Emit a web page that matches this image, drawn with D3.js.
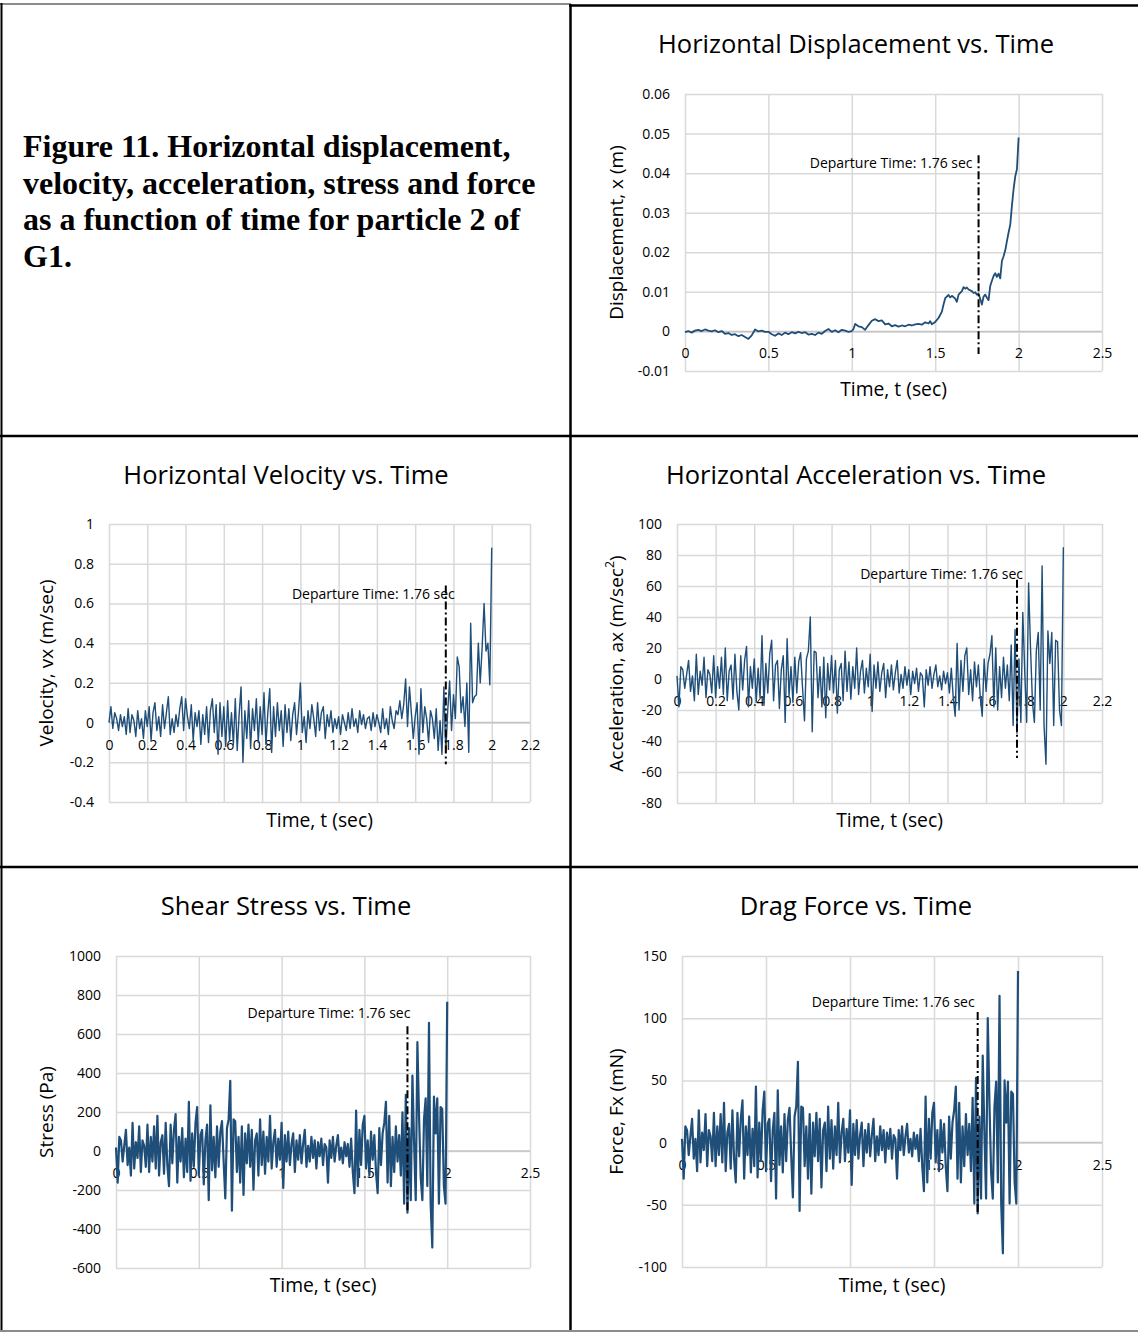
<!DOCTYPE html>
<html>
<head>
<meta charset="utf-8">
<script src="https://cdn.jsdelivr.net/npm/d3@7"></script>
<style>
  body { margin: 0; background: #fff; }
  svg { display: block; }
  .tick text { font-family: "Open Sans", sans-serif; fill: #000; }
</style>
</head>
<body>
<div id="chart-container"></div>
<script>
// ---- data ----
const caption = [
  "Figure 11. Horizontal displacement,",
  "velocity, acceleration, stress and force",
  "as a function of time for particle 2 of",
  "G1."
];

const departureTime = 1.76;
const departureLabel = "Departure Time: 1.76 sec";

// displacement, x (m) : sampled unevenly
const dispT = [0,0.02,0.04,0.06,0.08,0.10,0.12,0.14,0.16,0.18,0.20,0.22,0.24,0.26,0.28,0.30,0.32,0.34,0.36,0.38,
  0.40,0.42,0.44,0.46,0.48,0.50,0.52,0.54,0.56,0.58,0.60,0.62,0.64,0.66,0.68,0.70,0.72,0.74,0.76,0.78,
  0.80,0.82,0.84,0.86,0.88,0.90,0.92,0.94,0.96,0.98,1.00,1.01,1.02,1.04,1.06,1.08,1.10,1.12,1.14,1.16,
  1.18,1.20,1.22,1.24,1.26,1.28,1.30,1.32,1.34,1.36,1.38,1.40,1.42,1.44,1.46,1.47,1.48,1.50,1.52,1.54,
  1.55,1.56,1.58,1.59,1.60,1.62,1.63,1.64,1.66,1.67,1.68,1.69,1.70,1.72,1.73,1.74,1.75,1.76,1.77,1.78,
  1.79,1.80,1.81,1.82,1.83,1.84,1.85,1.86,1.87,1.88,1.89,1.90,1.91,1.92,1.93,1.94,1.95,1.96,1.97,1.98,
  1.99,2.00];
const dispX = [-0.0002,0.0001,-0.0003,0.0002,0.0004,0.0001,0.0005,0.0002,0.0000,0.0003,-0.0002,0.0001,-0.0006,-0.0004,-0.0009,-0.0007,-0.0012,-0.0009,-0.0014,-0.0019,
  -0.0010,0.0005,0.0000,0.0002,-0.0001,-0.0001,-0.0007,-0.0011,-0.0005,-0.0009,-0.0003,-0.0007,-0.0002,-0.0005,-0.0001,-0.0004,-0.0002,-0.0008,-0.0006,-0.0009,
  -0.0003,-0.0006,0.0001,0.0006,-0.0001,0.0003,-0.0002,0.0004,0.0002,-0.0001,0.0001,0.0006,0.0019,0.0013,0.0011,0.0004,0.0016,0.0027,0.0031,0.0026,
  0.0028,0.0018,0.0020,0.0013,0.0016,0.0012,0.0015,0.0013,0.0017,0.0015,0.0018,0.0019,0.0017,0.0023,0.0020,0.0026,0.0018,0.0024,0.0034,0.0050,
  0.0068,0.0084,0.0092,0.0086,0.0090,0.0083,0.0075,0.0093,0.0102,0.0112,0.0108,0.0111,0.0106,0.0102,0.0097,0.0099,0.0093,0.0096,0.0082,0.0068,
  0.0088,0.0093,0.0085,0.0079,0.0115,0.0128,0.0140,0.0147,0.0138,0.0146,0.0134,0.0178,0.0190,0.0205,0.0228,0.0250,0.0270,0.0318,0.0360,0.0392,
  0.0410,0.0490];

// the other four series are sampled every 0.01 s from 0 to 2.00 s
const sampleStep = 0.01;

const velocity = [
  0.00,0.08,-0.03,0.05,0.02,-0.04,0.04,-0.02,0.03,-0.06,
  0.07,-0.05,0.04,0.01,-0.07,0.06,-0.03,0.02,-0.08,0.06,
  -0.02,0.08,-0.09,0.05,0.10,-0.04,0.03,-0.07,0.09,-0.03,
  0.05,0.13,-0.06,0.02,-0.05,0.04,-0.02,0.07,0.13,-0.04,
  0.12,0.03,-0.03,0.09,-0.09,0.05,-0.02,0.06,-0.11,0.04,
  -0.06,0.08,-0.10,0.06,0.12,-0.05,0.09,-0.16,0.10,-0.07,
  0.08,-0.12,0.11,-0.09,0.05,-0.11,0.12,-0.14,0.04,0.18,
  -0.20,0.06,-0.08,0.11,-0.13,0.07,-0.04,0.12,-0.10,0.08,
  -0.06,0.15,-0.11,0.05,0.17,-0.15,0.08,-0.07,0.10,-0.04,
  0.06,-0.12,0.09,-0.05,0.07,-0.09,0.04,0.10,-0.06,0.05,
  0.20,-0.05,0.03,-0.10,0.06,-0.03,0.09,0.02,-0.07,0.10,
  -0.04,0.05,0.08,-0.08,0.04,-0.02,0.06,-0.05,0.02,-0.03,
  0.03,-0.06,0.04,0.00,-0.04,0.05,-0.03,0.07,-0.02,0.02,
  -0.05,0.06,-0.01,0.04,-0.03,0.02,0.03,-0.04,0.05,-0.02,
  0.04,0.00,-0.05,0.07,-0.03,0.02,-0.06,0.08,0.01,-0.03,
  0.06,0.04,0.11,0.02,0.09,0.22,-0.02,0.18,0.05,-0.08,
  0.03,0.10,-0.16,0.17,-0.05,0.08,0.02,-0.10,0.06,0.02,
  -0.08,0.07,-0.14,0.01,-0.16,0.18,-0.15,0.06,0.21,-0.04,
  0.14,0.02,0.33,0.28,0.05,0.13,-0.02,0.20,-0.15,0.50,
  0.10,0.13,0.14,0.40,0.20,0.38,0.60,0.36,0.40,0.19,
  0.88];

const acceleration = [
  2,-18,8,6,-6,3,12,-8,2,-14,
  16,-10,5,-4,14,-12,6,3,-9,15,
  -12,8,-6,14,-10,20,-14,5,9,-13,
  16,-8,-20,15,-7,12,21,-18,8,-6,
  13,-15,7,-12,28,-17,10,-9,16,25,
  -14,9,12,-19,6,15,-28,26,-11,8,
  -15,14,-9,11,17,-6,-27,13,18,40,
  -34,18,17,-12,8,-18,14,-25,10,-7,
  15,-9,12,-22,6,10,-14,18,-8,11,
  -13,8,-6,20,-10,5,12,-9,7,-5,
  16,-21,9,-6,11,-8,4,10,-12,6,
  -5,9,-7,4,12,-9,3,-6,8,-4,
  6,-10,5,-3,7,-8,4,2,-18,6,
  -4,8,-6,3,9,-5,2,-7,5,-3,
  4,-9,7,-12,-24,23,-20,12,-8,15,
  20,-10,6,-14,11,-5,9,-12,-24,13,
  -8,10,16,28,-18,20,-20,8,-12,14,
  -6,9,-14,22,-30,32,-35,13,-28,43,
  5,-28,62,20,-15,-28,18,30,-20,73,
  -30,-55,31,10,30,-30,25,24,-20,-30,
  85];

const stress = [
  18,-162,72,54,-54,27,108,-72,18,-126,
  144,-90,45,-36,126,-108,54,27,-81,135,
  -108,72,-54,126,-90,180,-126,45,81,-117,
  144,-72,-180,135,-63,108,189,-162,72,-54,
  117,-135,63,-108,252,-153,90,-81,144,225,
  -126,81,108,-171,54,135,-252,234,-99,72,
  -135,126,-81,99,153,-54,-243,117,162,360,
  -306,162,153,-108,72,-162,126,-225,90,-63,
  135,-81,108,-198,54,90,-126,162,-72,99,
  -117,72,-54,180,-90,45,108,-81,63,-45,
  144,-189,81,-54,99,-72,36,90,-108,54,
  -45,81,-63,36,108,-81,27,-54,72,-36,
  54,-90,45,-27,63,-72,36,18,-162,54,
  -36,72,-54,27,81,-45,18,-63,45,-27,
  36,-81,63,-108,-216,207,-180,108,-72,135,
  180,-90,54,-126,99,-45,81,-108,-216,117,
  -72,90,144,252,-162,180,-180,72,-108,126,
  -54,81,-126,198,-270,288,-315,117,-252,387,
  45,-252,558,180,-135,-252,162,270,-180,657,
  -270,-495,279,90,270,-270,225,216,-180,-270,
  765];

const force = [
  3,-29,13,10,-10,5,19,-13,3,-23,
  26,-16,8,-6,23,-19,10,5,-15,24,
  -19,13,-10,23,-16,32,-23,8,15,-21,
  26,-13,-32,24,-11,19,34,-29,13,-10,
  21,-24,11,-19,45,-28,16,-15,26,41,
  -23,15,19,-31,10,24,-45,42,-18,13,
  -24,23,-15,18,28,-10,-44,21,29,65,
  -55,29,28,-19,13,-29,23,-41,16,-11,
  24,-15,19,-36,10,16,-23,29,-13,18,
  -21,13,-10,32,-16,8,19,-15,11,-8,
  26,-34,15,-10,18,-13,6,16,-19,10,
  -8,15,-11,6,19,-15,5,-10,13,-6,
  10,-16,8,-5,11,-13,6,3,-29,10,
  -6,13,-10,5,15,-8,3,-11,8,-5,
  6,-15,11,-19,-39,37,-32,19,-13,24,
  32,-16,10,-23,18,-8,15,-19,-39,21,
  -13,16,26,45,-29,32,-32,13,-19,23,
  -10,15,-23,36,-49,52,-57,21,-45,70,
  8,-45,100,32,-24,-45,29,49,-32,118,
  -49,-89,50,16,49,-49,41,39,-32,-49,
  138];

// axis ticks
const ticksDispX = [0, 0.5, 1, 1.5, 2, 2.5];
const ticksDispY = [-0.01, 0, 0.01, 0.02, 0.03, 0.04, 0.05, 0.06];
const ticksVelX = [0, 0.2, 0.4, 0.6, 0.8, 1, 1.2, 1.4, 1.6, 1.8, 2, 2.2];
const ticksVelY = [-0.4, -0.2, 0, 0.2, 0.4, 0.6, 0.8, 1];
const ticksAccX = ticksVelX;
const ticksAccY = [-80, -60, -40, -20, 0, 20, 40, 60, 80, 100];
const ticksStressX = ticksDispX;
const ticksStressY = [-600, -400, -200, 0, 200, 400, 600, 800, 1000];
const ticksForceX = ticksDispX;
const ticksForceY = [-100, -50, 0, 50, 100, 150];

// ---- layout ----
const W = 1138, H = 1332;
const FONT = "'Open Sans', sans-serif";
const LINE_COLOR = "#1f4e79";
const GRID_COLOR = "#d9d9d9";

const svg = d3.select("#chart-container").append("svg")
  .attr("width", W).attr("height", H)
  .attr("viewBox", `0 0 ${W} ${H}`);

// table borders
svg.append("line").attr("x1", 0).attr("x2", 571).attr("y1", 4).attr("y2", 4)
  .attr("stroke", "#8c8c8c").attr("stroke-width", 2);
svg.append("line").attr("x1", 569).attr("x2", W).attr("y1", 5.5).attr("y2", 5.5)
  .attr("stroke", "#000").attr("stroke-width", 2.5);
svg.append("line").attr("x1", 1.5).attr("x2", 1.5).attr("y1", 3).attr("y2", H)
  .attr("stroke", "#000").attr("stroke-width", 2);
svg.append("line").attr("x1", 570.5).attr("x2", 570.5).attr("y1", 4).attr("y2", H)
  .attr("stroke", "#000").attr("stroke-width", 2.5);
[436, 867].forEach(yy => {
  svg.append("line").attr("x1", 0).attr("x2", W).attr("y1", yy).attr("y2", yy)
    .attr("stroke", "#000").attr("stroke-width", 2.5);
});
svg.append("line").attr("x1", 0).attr("x2", W).attr("y1", 1331).attr("y2", 1331)
  .attr("stroke", "#8c8c8c").attr("stroke-width", 2);

// caption
svg.append("text")
  .attr("font-family", "'Liberation Serif', 'Times New Roman', serif")
  .attr("font-weight", "bold")
  .attr("font-size", 32)
  .selectAll("tspan")
  .data(caption)
  .join("tspan")
    .attr("x", 23)
    .attr("y", (d, i) => 157 + i * 36.7)
    .text(d => d);

const fmt = v => String(+v.toFixed(4));

function series(values) {
  return values.map((v, i) => ({t: +(i * sampleStep).toFixed(2), v}));
}

function drawChart(c) {
  const g = svg.append("g");
  const x = d3.scaleLinear().domain(c.xDomain).range([c.left, c.right]);
  const y = d3.scaleLinear().domain(c.yDomain).range([c.bottom, c.top]);

  // gridlines
  const gy = g.append("g").attr("transform", `translate(${c.left},0)`)
    .call(d3.axisLeft(y).tickValues(c.yTicks).tickSize(-(c.right - c.left)).tickFormat(""));
  const gx = g.append("g").attr("transform", `translate(0,${c.bottom})`)
    .call(d3.axisBottom(x).tickValues(c.xTicks).tickSize(c.bottom - c.top).tickFormat(""))
  gx.selectAll("line").attr("y2", -(c.bottom - c.top));
  [gy, gx].forEach(a => {
    a.select(".domain").remove();
    a.selectAll("line").attr("stroke", GRID_COLOR).attr("stroke-width", 1.5);
  });

  // zero axis line
  g.append("line")
    .attr("x1", c.left).attr("x2", c.right)
    .attr("y1", y(0)).attr("y2", y(0))
    .attr("stroke", "#c4c4c4").attr("stroke-width", 1.5);

  // y tick labels
  const ly = g.append("g").attr("transform", `translate(${c.left},0)`)
    .call(d3.axisLeft(y).tickValues(c.yTicks).tickSize(0).tickPadding(15).tickFormat(c.yFmt || fmt));
  ly.select(".domain").remove();
  ly.selectAll("text").attr("font-size", 14).attr("font-family", FONT);

  // x tick labels, hanging below the zero line
  const lx = g.append("g").attr("transform", `translate(0,${y(0)})`)
    .call(d3.axisBottom(x).tickValues(c.xTicks).tickSize(0).tickPadding(17).tickFormat(fmt));
  lx.select(".domain").remove();
  lx.selectAll("text").attr("font-size", 14).attr("font-family", FONT);

  // data line
  const line = d3.line().x(d => x(d.t)).y(d => y(d.v));
  g.append("path")
    .datum(c.data)
    .attr("fill", "none")
    .attr("stroke", LINE_COLOR)
    .attr("stroke-width", c.lineWidth)
    .attr("stroke-linejoin", "round")
    .attr("d", line);

  // departure marker
  g.append("line")
    .attr("x1", x(departureTime)).attr("x2", x(departureTime))
    .attr("y1", y(c.depTop)).attr("y2", y(c.depBottom))
    .attr("stroke", "#000").attr("stroke-width", 2)
    .attr("stroke-dasharray", "8,3,2,3");
  g.append("text")
    .attr("x", x(departureTime) + c.labelDx)
    .attr("y", y(c.depTop) + c.labelDy)
    .attr("text-anchor", "end")
    .attr("dominant-baseline", "middle")
    .attr("font-family", FONT)
    .attr("font-size", 14)
    .text(departureLabel);

  // titles
  g.append("text")
    .attr("x", c.titleX).attr("y", c.titleY)
    .attr("text-anchor", "middle").attr("dominant-baseline", "middle")
    .attr("font-family", FONT).attr("font-size", 25.5)
    .text(c.title);
  g.append("text")
    .attr("x", (c.left + c.right) / 2).attr("y", c.xTitleY)
    .attr("text-anchor", "middle").attr("dominant-baseline", "middle")
    .attr("font-family", FONT).attr("font-size", 19.3)
    .text("Time, t (sec)");
  const yt = g.append("text")
    .attr("transform", `translate(${c.yTitleX},${(c.top + c.bottom) / 2}) rotate(-90)`)
    .attr("text-anchor", "middle").attr("dominant-baseline", "middle")
    .attr("font-family", FONT).attr("font-size", 19);
  yt.append("tspan").text(c.yTitle);
  if (c.yTitleSup) {
    yt.append("tspan").attr("font-size", 12.5).attr("dy", -7).text(c.yTitleSup);
    yt.append("tspan").attr("dy", 7).text(")");
  }
}

drawChart({
  title: "Horizontal Displacement vs. Time", titleX: 856, titleY: 46,
  left: 685, right: 1102, top: 94, bottom: 371,
  xDomain: [0, 2.5], yDomain: [-0.01, 0.06],
  xTicks: ticksDispX, yTicks: ticksDispY,
  yFmt: v => v === 0 ? "0" : v.toFixed(2),
  data: dispT.map((t, i) => ({t, v: dispX[i]})),
  lineWidth: 1.8,
  depTop: 0.0445, depBottom: -0.0057, labelDx: -6, labelDy: 9,
  xTitleY: 391, yTitleX: 618, yTitle: "Displacement, x (m)"
});

drawChart({
  title: "Horizontal Velocity vs. Time", titleX: 286, titleY: 477,
  left: 109, right: 530, top: 524, bottom: 802,
  xDomain: [0, 2.2], yDomain: [-0.4, 1],
  xTicks: ticksVelX, yTicks: ticksVelY,
  data: series(velocity),
  lineWidth: 1.4,
  depTop: 0.69, depBottom: -0.21, labelDx: 9, labelDy: 10,
  xTitleY: 822, yTitleX: 48, yTitle: "Velocity, vx (m/sec)"
});

drawChart({
  title: "Horizontal Acceleration vs. Time", titleX: 856, titleY: 477,
  left: 677, right: 1102, top: 524, bottom: 803,
  xDomain: [0, 2.2], yDomain: [-80, 100],
  xTicks: ticksAccX, yTicks: ticksAccY,
  data: series(acceleration),
  lineWidth: 1.4,
  depTop: 64, depBottom: -51, labelDx: 6, labelDy: -5,
  xTitleY: 822, yTitleX: 618, yTitle: "Acceleration, ax (m/sec", yTitleSup: "2"
});

drawChart({
  title: "Shear Stress vs. Time", titleX: 286, titleY: 908,
  left: 116, right: 530, top: 956, bottom: 1268,
  xDomain: [0, 2.5], yDomain: [-600, 1000],
  xTicks: ticksStressX, yTicks: ticksStressY,
  data: series(stress),
  lineWidth: 2.2,
  depTop: 640, depBottom: -320, labelDx: 3, labelDy: -12,
  xTitleY: 1287, yTitleX: 48, yTitle: "Stress (Pa)"
});

drawChart({
  title: "Drag Force vs. Time", titleX: 856, titleY: 908,
  left: 682, right: 1102, top: 956, bottom: 1267,
  xDomain: [0, 2.5], yDomain: [-100, 150],
  xTicks: ticksForceX, yTicks: ticksForceY,
  data: series(force),
  lineWidth: 2.2,
  depTop: 105, depBottom: -57, labelDx: -3, labelDy: -9,
  xTitleY: 1287, yTitleX: 618, yTitle: "Force, Fx (mN)"
});
</script>
</body>
</html>
